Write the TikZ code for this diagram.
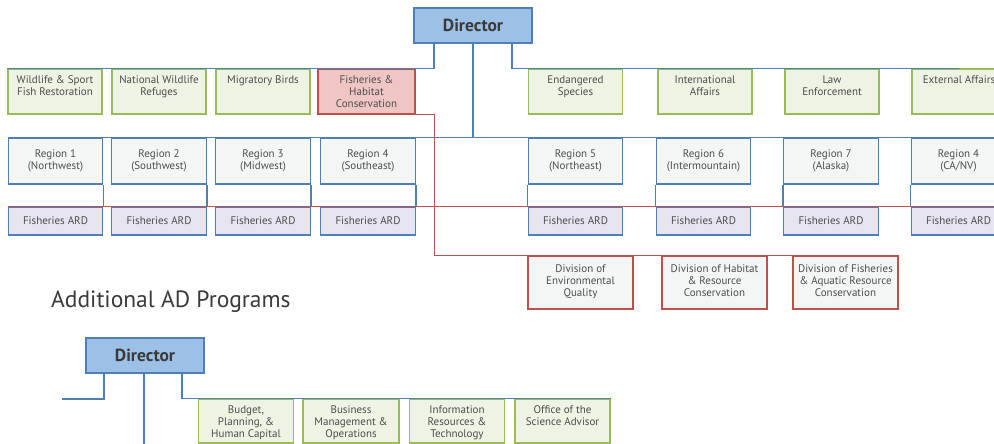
\documentclass[tikz,border=0pt]{standalone}
\usepackage{fontspec}
\setmainfont{PT Sans}

\definecolor{blueline}{HTML}{4F7FB8}
\definecolor{dirfill}{HTML}{9DC0E6}
\definecolor{greenline}{HTML}{9BBB59}
\definecolor{progfill}{HTML}{EFF3E4}
\definecolor{redline}{HTML}{C0504D}
\definecolor{fishfill}{HTML}{F0C6C4}
\definecolor{regfill}{HTML}{F4F6F6}
\definecolor{ardfill}{HTML}{E6E4F0}
\definecolor{textgray}{HTML}{4D4D4D}
\definecolor{dirtext}{HTML}{3A3A3A}

% centred lines, and centred lines at the top of a fixed height box
\newcommand{\celltext}[1]{\begin{tabular}{@{}c@{}}#1\end{tabular}}
\newcommand{\toptext}[1]{\vbox to 32pt{\hbox{\celltext{#1}}\vss}}

\tikzset{
    orgbox/.style={draw, line width=1.3pt, inner sep=0pt, text=textgray,
        font=\fontsize{11}{12}\selectfont},
    dirbox/.style={orgbox, fill=dirfill, draw=blueline, minimum width=118pt, minimum height=35pt,
        text=dirtext, font=\fontsize{17.5}{19}\selectfont\bfseries},
    progbox/.style={orgbox, fill=progfill, draw=greenline, minimum width=94pt, minimum height=45pt},
    fishbox/.style={progbox, fill=fishfill, draw=redline, minimum width=97pt},
    regionbox/.style={orgbox, fill=regfill, draw=blueline, minimum width=94.5pt, minimum height=46pt},
    ardbox/.style={orgbox, fill=ardfill, draw=blueline, minimum width=94.5pt, minimum height=28pt},
    divbox/.style={orgbox, fill=regfill, draw=redline, minimum width=105pt, minimum height=53pt},
    blueconn/.style={draw=blueline, line width=1.3pt},
    redconn/.style={draw=redline, line width=1.3pt}
}

\begin{document}
\begin{tikzpicture}[x=1pt, y=-1pt]
    \useasboundingbox[fill=white] (0,0) rectangle (994,444);

    % Director and programs
    \node[dirbox] (dir) at (473,25.5) {Director};
    \foreach \cx/\id/\txt in {
        55/wsfr/{Wildlife \& Sport\\Fish Restoration},
        159/nwr/{National Wildlife\\Refuges},
        263/mb/{Migratory Birds},
        575.5/es/{Endangered\\Species},
        705/ia/{International\\Affairs},
        832/le/{Law\\Enforcement},
        959/ea/{External Affairs}
    } {
        \node[progbox] (\id) at (\cx,91.5) {\toptext{\txt}};
    }
    \node[fishbox] (fhc) at (366.5,91.5) {\toptext{Fisheries \&\\Habitat\\Conservation}};

    % Regions and their Fisheries ARDs
    \node[regionbox] (reg1) at (55.5,161)  {\celltext{Region 1\\(Northwest)}};
    \node[regionbox] (reg2) at (159,161)   {\celltext{Region 2\\(Southwest)}};
    \node[regionbox] (reg3) at (263,161)   {\celltext{Region 3\\(Midwest)}};
    \node[regionbox] (reg4) at (368,161)   {\celltext{Region 4\\(Southeast)}};
    \node[regionbox] (reg5) at (575.5,161) {\celltext{Region 5\\(Northeast)}};
    \node[regionbox] (reg6) at (703.5,161) {\celltext{Region 6\\(Intermountain)}};
    \node[regionbox] (reg7) at (831,161)   {\celltext{Region 7\\(Alaska)}};
    \node[regionbox] (reg8) at (958.5,161) {\celltext{Region 4\\(CA/NV)}};
    \node[ardbox] (ard1) at (55.5,221)  {Fisheries ARD};
    \node[ardbox] (ard2) at (159,221)   {Fisheries ARD};
    \node[ardbox] (ard3) at (263,221)   {Fisheries ARD};
    \node[ardbox] (ard4) at (368,221)   {Fisheries ARD};
    \node[ardbox] (ard5) at (575.5,221) {Fisheries ARD};
    \node[ardbox] (ard6) at (703.5,221) {Fisheries ARD};
    \node[ardbox] (ard7) at (831,221)   {Fisheries ARD};
    \node[ardbox] (ard8) at (958.5,221) {Fisheries ARD};

    % Divisions
    \node[divbox] (divenv)  at (580.5,282.5) {\celltext{Division of\\Environmental\\Quality}};
    \node[divbox] (divhab)  at (714.5,282.5) {\celltext{Division of Habitat\\\& Resource\\Conservation}};
    \node[divbox] (divfish) at (845.5,282.5) {\celltext{Division of Fisheries\\\& Aquatic Resource\\Conservation}};

    % Connectors
    \draw[blueconn] ([xshift=-39pt]dir.south) |- (wsfr.north west);
    \draw[blueconn] ([xshift=39pt]dir.south) |- (ea.north);
    \draw[blueconn] (dir.south) -- (dir.south |- reg1.north);
    \draw[blueconn] (reg1.north west) -- (reg8.north east);
    \draw[blueconn] (reg1.south east) -- (ard1.north east);
    \draw[blueconn] (reg2.south east) -- (ard2.north east);
    \draw[blueconn] (reg3.south east) -- (ard3.north east);
    \draw[blueconn] (reg4.south east) -- (ard4.north east);
    \draw[blueconn] (reg5.south west) -- (ard5.north west);
    \draw[blueconn] (reg6.south west) -- (ard6.north west);
    \draw[blueconn] (reg7.south west) -- (ard7.north west);
    \draw[blueconn] (reg8.south west) -- (ard8.north west);
    \draw[redconn] (ard1.north west) -- (ard8.north east);
    \draw[redconn] (fhc.south east) -- ([xshift=19pt]fhc.south east) |- (divfish.north east);

    % Additional AD programs
    \node[anchor=base west, inner sep=0pt, text=dirtext, font=\fontsize{23.5}{26}\selectfont]
        (adtitle) at (51,307) {Additional AD Programs};
    \node[dirbox] (dir2) at (145,355.5) {Director};
    \node[progbox, minimum width=95pt, minimum height=44pt] (bph) at (246,421)
        {\toptext{Budget,\\Planning, \&\\Human Capital}};
    \node[progbox, minimum width=96pt, minimum height=44pt] (bmo) at (351,421)
        {\toptext{Business\\Management \&\\Operations}};
    \node[progbox, minimum width=95pt, minimum height=44pt] (irt) at (457,421)
        {\toptext{Information\\Resources \&\\Technology}};
    \node[progbox, minimum width=95pt, minimum height=44pt] (osa) at (562.5,421)
        {\toptext{Office of the\\Science Advisor}};
    \coordinate (leftend) at (62,399);
    \coordinate (downend) at (144,450);
    \draw[blueconn] ([xshift=-41pt]dir2.south) |- (leftend);
    \draw[blueconn] (dir2.south -| downend) -- (downend);
    \draw[blueconn] ([xshift=37pt]dir2.south) |- (osa.north east);
\end{tikzpicture}
\end{document}
